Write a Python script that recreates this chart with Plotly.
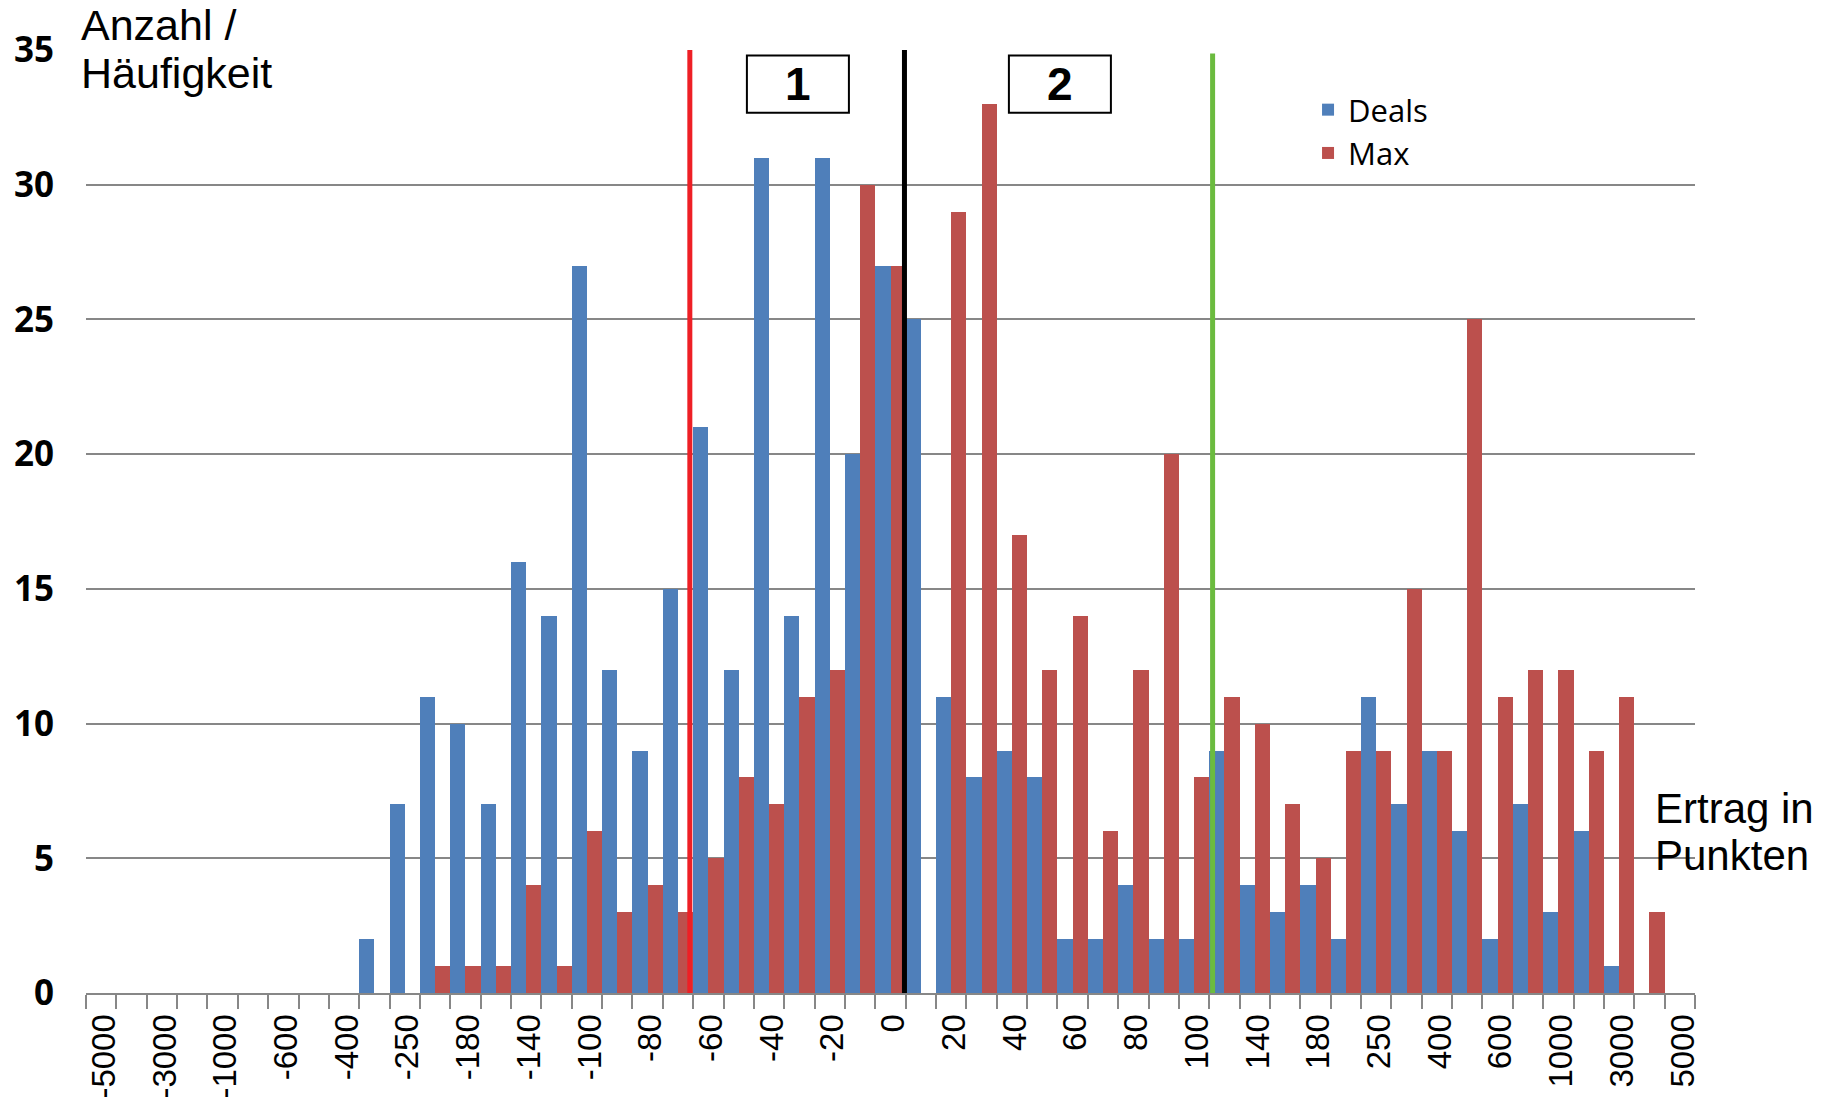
import plotly.graph_objects as go

# ---- data ----
categories = ["-5000", "-4000", "-3000", "-2000", "-1000", "-800", "-600", "-500", "-400", "-300",
              "-250", "-200", "-180", "-160", "-140", "-120", "-100", "-90", "-80", "-70",
              "-60", "-50", "-40", "-30", "-20", "-10", "0", "10", "20", "30",
              "40", "50", "60", "70", "80", "90", "100", "120", "140", "160",
              "180", "200", "250", "300", "400", "500", "600", "800", "1000", "2000",
              "3000", "4000", "5000"]

deals = [0, 0, 0, 0, 0, 0, 0, 0, 0, 2,
         7, 11, 10, 7, 16, 14, 27, 12, 9, 15,
         21, 12, 31, 14, 31, 20, 27, 25, 11, 8,
         9, 8, 2, 2, 4, 2, 2, 9, 4, 3,
         4, 2, 11, 7, 9, 6, 2, 7, 3, 6,
         1, 0, 0]

max_vals = [0, 0, 0, 0, 0, 0, 0, 0, 0, 0,
            0, 1, 1, 1, 4, 1, 6, 3, 4, 3,
            5, 8, 7, 11, 12, 30, 27, 0, 29, 33,
            17, 12, 14, 6, 12, 20, 8, 11, 10, 7,
            5, 9, 9, 15, 9, 25, 11, 12, 12, 9,
            11, 3, 0]

shown_tick_labels = ["-5000", "-3000", "-1000", "-600", "-400", "-250", "-180", "-140", "-100",
                     "-80", "-60", "-40", "-20", "0", "20", "40", "60", "80", "100", "140",
                     "180", "250", "400", "600", "1000", "3000", "5000"]

y_ticks = [0, 5, 10, 15, 20, 25, 30, 35]

# marker line positions (category index units)
red_line_x = 19.39
black_line_x = 26.46
green_line_x = 36.61

# ---- figure ----
BLUE = "#4F7FBA"
RED = "#BC504D"
GRID = "#878787"

fig = go.Figure()
fig.add_trace(go.Bar(x=categories, y=deals, name="Deals", marker=dict(color=BLUE, line=dict(width=0))))
fig.add_trace(go.Bar(x=categories, y=max_vals, name="Max", marker=dict(color=RED, line=dict(width=0))))

ticktext = [c if c in shown_tick_labels else "" for c in categories]

fig.update_layout(
    width=1822, height=1104,
    margin=dict(l=86, r=127, t=50, b=111, autoexpand=False),
    paper_bgcolor="white", plot_bgcolor="white",
    barmode="group", bargap=0, bargroupgap=0,
    showlegend=True,
    legend=dict(x=0.7595, y=0.9650, xanchor="left", yanchor="top",
                font=dict(family="Open Sans", size=31, color="black"),
                bgcolor="rgba(0,0,0,0)", tracegroupgap=0),
    xaxis=dict(type="category", tickmode="array", tickvals=categories, ticktext=ticktext,
               tickangle=-90, tickfont=dict(family="Liberation Sans", size=33, color="black"),
               ticks="outside", ticklen=14, tickwidth=2, tickcolor=GRID, tickson="boundaries",
               ticklabelstandoff=6, ticklabelshift=3, automargin=False,
               showline=True, linecolor=GRID, linewidth=2, showgrid=False, zeroline=False),
    yaxis=dict(range=[0, 35], tickmode="array", tickvals=y_ticks, ticks="",
               tickfont=dict(family="Open Sans", size=35, color="black", weight="bold"),
               ticklabelstandoff=31, automargin=False,
               showgrid=True, gridcolor=GRID, gridwidth=1.5, zeroline=False, showline=False),
)

# vertical marker lines
for xv, col, top in [(red_line_x, "#EE1F25", 1.0), (black_line_x, "#000000", 1.0),
                     (green_line_x, "#6BBB3F", 0.9963)]:
    fig.add_shape(type="line", xref="x", yref="paper", x0=xv, x1=xv, y0=0, y1=top,
                  line=dict(color=col, width=5), layer="above")

# boxes "1" and "2"
for (bx0, bx1, label) in [(21.27, 24.63, "1"), (29.9, 33.26, "2")]:
    fig.add_shape(type="rect", xref="x", yref="y", x0=bx0, x1=bx1, y0=32.67, y1=34.8,
                  line=dict(color="black", width=2), fillcolor="white", layer="above")
    fig.add_annotation(xref="x", yref="y", x=(bx0 + bx1) / 2, y=33.74, text="<b>" + label + "</b>",
                       showarrow=False, font=dict(family="Liberation Sans", size=46, color="black"),
                       xanchor="center", yanchor="middle")

# axis titles (each line placed separately for tight line spacing)
for txt, xp, yp, fs in [("Anzahl /", -0.0035, 1.0262, 43), ("Häufigkeit", -0.0035, 0.9754, 43),
                        ("Ertrag in", 0.9745, 0.1956, 42), ("Punkten", 0.9745, 0.1460, 42)]:
    fig.add_annotation(xref="paper", yref="paper", x=xp, y=yp, xanchor="left", yanchor="middle",
                       text=txt, align="left", showarrow=False, borderpad=0,
                       font=dict(family="Liberation Sans", size=fs, color="black"))

fig.write_html("out.html", config={"displayModeBar": False},
               post_script="document.body.style.margin='0';")
